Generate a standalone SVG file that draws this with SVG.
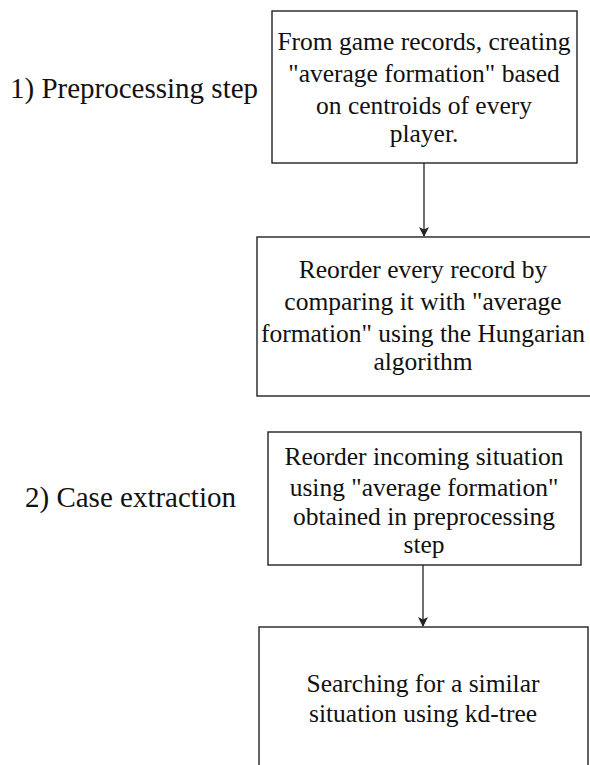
<svg xmlns="http://www.w3.org/2000/svg" width="590" height="765" viewBox="0 0 590 765">
<style>
.box{fill:#fff;stroke:#222;stroke-width:1.4}
text{font-family:'Liberation Serif','Times New Roman',serif;fill:#111}
.t{text-anchor:middle;font-size:25.5px}
.l{font-size:29px}
.c{stroke:#222;stroke-width:1.3;fill:none}
</style>
<defs>
<marker id="ah" markerWidth="10" markerHeight="10" refX="9" refY="5" orient="auto" markerUnits="userSpaceOnUse">
<path d="M0,0 L10,5 L0,10 L2.5,5 Z" fill="#222"/>
</marker>
</defs>
<rect width="590" height="765" fill="#fff"/>
<g id="label1"><text class="l" x="10" y="98">1) Preprocessing step</text></g>
<g id="label2"><text class="l" x="25" y="507">2) Case extraction</text></g>
<g id="connectors">
<line class="c" x1="424" y1="163" x2="424" y2="236" marker-end="url(#ah)"/>
<line class="c" x1="423" y1="565" x2="423" y2="626" marker-end="url(#ah)"/>
</g>
<g id="node1">
<rect class="box" x="272" y="11" width="305" height="152"/>
<text class="t" x="424" y="50">From game records, creating</text>
<text class="t" x="424" y="82">"average formation" based</text>
<text class="t" x="424" y="114">on centroids of every</text>
<text class="t" x="424" y="142">player.</text>
</g>
<g id="node2">
<rect class="box" x="257" y="237" width="340" height="159"/>
<text class="t" x="423" y="278">Reorder every record by</text>
<text class="t" x="423" y="310">comparing it with "average</text>
<text class="t" x="423" y="342">formation" using the Hungarian</text>
<text class="t" x="423" y="370">algorithm</text>
</g>
<g id="node3">
<rect class="box" x="268" y="432" width="313" height="133"/>
<text class="t" x="424" y="465">Reorder incoming situation</text>
<text class="t" x="424" y="496">using "average formation"</text>
<text class="t" x="424" y="525">obtained in preprocessing</text>
<text class="t" x="424" y="553">step</text>
</g>
<g id="node4">
<rect class="box" x="259" y="627" width="329" height="150"/>
<text class="t" x="423" y="692">Searching for a similar</text>
<text class="t" x="423" y="722">situation using kd-tree</text>
</g>
</svg>
